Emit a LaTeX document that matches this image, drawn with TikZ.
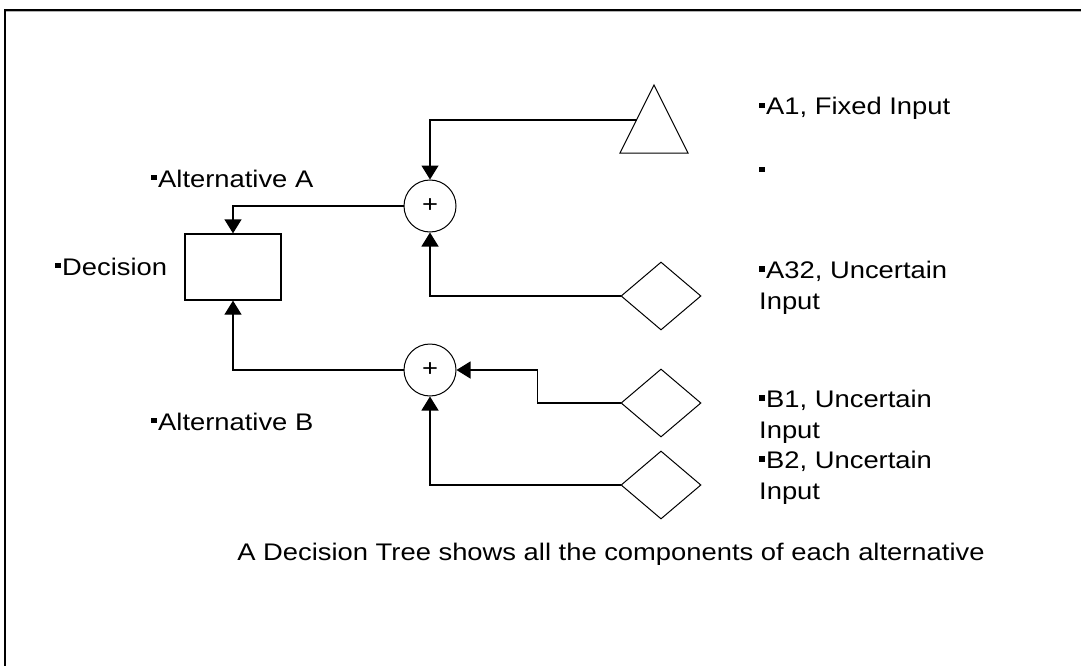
\documentclass[tikz,border=0pt]{standalone}
\usepackage{fontspec}
\setmainfont{Liberation Sans}[FakeStretch=1.14]
\usetikzlibrary{arrows.meta,shapes.geometric}
\newcommand\bul{\rule[7pt]{5.5pt}{5.5pt}\hspace{1.5pt}}
\begin{document}
\begin{tikzpicture}[x=1pt,y=-1pt,
  conn/.style={line width=1.3pt},
  arr/.style={conn,-{Triangle[width=17pt,length=14pt]}},
  box/.style={draw,line width=1.3pt,minimum width=96pt,minimum height=66pt,inner sep=0pt},
  sumnode/.style={draw,circle,line width=1pt,minimum size=52pt,inner sep=0pt,font=\fontsize{24}{24}\selectfont},
  chance/.style={draw,diamond,line width=1pt,minimum width=80pt,minimum height=68pt,inner sep=0pt},
  lbl/.style={anchor=base west,inner sep=0pt,align=left,font=\fontsize{24}{30.5}\selectfont}]
\useasboundingbox (0,0) rectangle (1081,666);
\fill[white] (0,0) rectangle (1081,666);
% frame
\draw[line width=1.6pt] (5,666) -- (5,10) -- (1081,10);
\draw[gray!60,line width=0.8pt] (6,11.5) -- (1081,11.5);
% nodes
\node[box] (D) at (233,267) {};
\node[sumnode] (cA) at (430,206) {+};
\node[sumnode] (cB) at (430,370) {+};
\draw[line width=1pt] (654,85) -- (688,153) -- (620,153) -- cycle;
\coordinate (tri) at (636.5,120);
\node[chance] (dA) at (661,296) {};
\node[chance] (dB1) at (661,403) {};
\node[chance] (dB2) at (661,485) {};
% connectors
\draw[arr] (cA.west) -| (D.north);
\draw[arr] (cB.west) -| (D.south);
\draw[arr] (tri) -| (cA.north);
\draw[arr] (dA.west) -| (cA.south);
\draw[arr] (dB1.west) -- ++(-83,0) |- (cB.east);
\draw[arr] (dB2.west) -| (cB.south);
% labels (multi-line nodes: base = last line)
\node[lbl] (lAltA) at (151,187) {\bul Alternative A};
\node[lbl] (lDec) at (55,275) {\bul Decision};
\node[lbl] (lAltB) at (151,430) {\bul Alternative B};
\node[lbl] (lA1) at (759,115) {\bul A1, Fixed Input};
\node[lbl] (lEmpty) at (759,179) {\bul};
\node[lbl] (lA32) at (759,309) {\bul A32, Uncertain\\Input};
\node[lbl] (lB1) at (759,438) {\bul B1, Uncertain\\Input};
\node[lbl] (lB2) at (759,499) {\bul B2, Uncertain\\Input};
\node[anchor=base,inner sep=0pt,font=\fontsize{24}{24}\selectfont] (cap) at (611,560) {A Decision Tree shows all the components of each alternative};
\end{tikzpicture}
\end{document}
